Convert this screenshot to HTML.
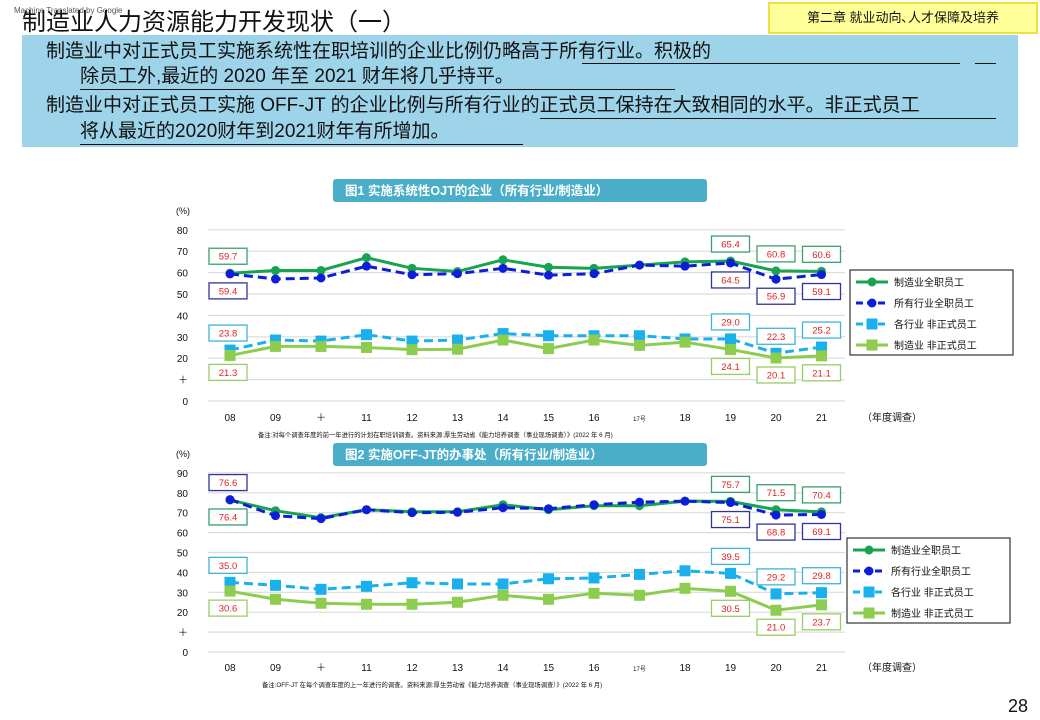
<!DOCTYPE html>
<html><head><meta charset="utf-8">
<style>
body{margin:0;width:1040px;height:720px;background:#fff;position:relative;overflow:hidden;font-family:"Liberation Sans","Noto Sans CJK SC",sans-serif;}
.abs{position:absolute;}
.bline{position:absolute;white-space:nowrap;font-size:19px;color:#111;line-height:24px;}
.ul{position:absolute;height:1px;background:#111;}
</style></head><body>
<div class="abs" style="left:14px;top:6px;font-size:8px;color:#555;">Machine Translated by Google</div>
<div class="abs" style="left:22px;top:2px;font-size:24px;color:#111;">制造业人力资源能力开发现状（一）</div>
<div class="abs" style="left:768px;top:2px;width:266px;height:28px;background:#ffff99;border:2px solid #eee040;font-size:13px;line-height:28px;text-align:center;color:#111;">第二章 就业动向､人才保障及培养</div>
<div class="abs" style="left:22px;top:35px;width:996px;height:112px;background:#9dd4ea;"></div>
<div class="bline" style="left:46px;top:40px;">制造业中对正式员工实施系统性在职培训的企业比例仍略高于所有行业。积极的</div>
<div class="ul" style="left:582px;top:63px;width:378px;"></div>
<div class="ul" style="left:975px;top:63px;width:21px;"></div>
<div class="bline" style="left:80px;top:65px;">除员工外,最近的 2020 年至 2021 财年将几乎持平。</div>
<div class="ul" style="left:80px;top:89px;width:595px;"></div>
<div class="bline" style="left:46px;top:94px;">制造业中对正式员工实施 OFF-JT 的企业比例与所有行业的正式员工保持在大致相同的水平。非正式员工</div>
<div class="ul" style="left:540px;top:118px;width:456px;"></div>
<div class="bline" style="left:80px;top:120px;">将从最近的2020财年到2021财年有所增加。</div>
<div class="ul" style="left:80px;top:144px;width:443px;"></div>
<div class="abs" style="left:1008px;top:696px;font-size:18px;color:#111;">28</div>

<svg id="chart" class="abs" style="left:0;top:0" width="1040" height="720"></svg>

<script>
const years=["08","09","＋","11","12","13","14","15","16","17号","18","19","20","21"];
const c1MfgFull=[59.7,61,61,67,62,60.5,66,62.5,62,63.5,65,65.4,60.8,60.6];
const c1AllFull=[59.4,57,57.5,63,59,59.5,62,58.8,59.5,63.5,63,64.5,56.9,59.1];
const c1AllNon=[23.8,28.5,28,31,28,28.5,31.5,30.5,30.5,30.5,29,29.0,22.3,25.2];
const c1MfgNon=[21.3,25.5,25.5,25,24,24.2,28.5,24.5,28.5,26,27.5,24.1,20.1,21.1];
const c2MfgFull=[76.4,71,67.5,71.5,70.5,70.5,74,71.5,73.5,73.5,75.8,75.7,71.5,70.4];
const c2AllFull=[76.6,68.5,67,71.5,70,70.2,72.5,72,74,75.3,75.8,75.1,68.8,69.1];
const c2AllNon=[35.0,33.5,31.5,33,34.8,34.2,34.2,36.8,37.2,39,40.8,39.5,29.2,29.8];
const c2MfgNon=[30.6,26.5,24.5,24,24,25,28.5,26.5,29.5,28.5,32,30.5,21.0,23.7];
const c1Ticks=["0","＋","20","30","40","50","60","70","80"];
const c2Ticks=["0","＋","20","30","40","50","60","70","80","90"];
const labelIdx=[0,11,12,13];
const legendNames=["制造业全职员工","所有行业全职员工","各行业 非正式员工","制造业 非正式员工"];

const NS="http://www.w3.org/2000/svg";
const svg=document.getElementById('chart');
function el(tag,attrs,parent){const e=document.createElementNS(NS,tag);for(const k in attrs)e.setAttribute(k,attrs[k]);(parent||svg).appendChild(e);return e;}
const FONT='"Liberation Sans","Noto Sans CJK SC",sans-serif';
const styles=[
 {color:"#17a34f",dash:"",marker:"circle",box:"#3aa070"},
 {color:"#0c1ed8",dash:"9,5",marker:"circle",box:"#33339a"},
 {color:"#1ab0ec",dash:"9,5",marker:"square",box:"#40b4d4"},
 {color:"#8ccc4e",dash:"",marker:"square",box:"#99cc66"}];

function drawChart(cfg){
 const g=el('g',{});
 
 
 const x=i=>230+i*45.5;
 const y=v=>cfg.y0-v*cfg.k;
 cfg.ticks.forEach((t,i)=>{
  const yy=y(i*10);
  const gl=el('line',{x1:208,x2:845,y1:yy,y2:yy,stroke:"#dcdcdc","stroke-width":1.2},g);
  
  
  const tx=el('text',{x:188,y:yy+4,"text-anchor":"end","font-size":10,"font-family":FONT,fill:"#111"},g);
  tx.textContent=t;
  
  
 });
 const pu=el('text',{x:176,y:cfg.y0-(cfg.ticks.length-1)*10*cfg.k+cfg.unitDy,"font-size":9,"font-family":FONT,fill:"#111"},g);
 pu.textContent="(%)";
 
 
 years.forEach((t,i)=>{
  const small=t.length>2;
  const tx=el('text',{x:x(i),y:cfg.xy,"text-anchor":"middle","font-size":small?6:10,"font-family":FONT,fill:"#111"},g);
  tx.textContent=t;
  
  
 });
 const xt=el('text',{x:862,y:cfg.xy,"font-size":10,"font-family":FONT,fill:"#111"},g);
 xt.textContent="（年度调查）";
 
 
 const note=el('text',{x:cfg.noteX,y:cfg.xy+16,"font-size":6.3,"font-family":FONT,fill:"#111"},g);
 note.textContent=cfg.note;
 
 
 const br=el('rect',{x:333,y:cfg.bannerY,width:374,height:23,rx:3,fill:"#4aaec8"},g);
 
 
 const bt=el('text',{x:345,y:cfg.bannerY+16,"font-size":12.5,"font-weight":"bold","font-family":FONT,fill:"#fff"},g);
 bt.textContent=cfg.title;
 
 
 cfg.series.forEach((data,s)=>{
  const st=styles[s];
  const pts=data.map((v,i)=>x(i)+","+y(v)).join(" ");
  const pl=el('polyline',{points:pts,fill:"none",stroke:st.color,"stroke-width":3,"stroke-dasharray":st.dash},g);
  
  
  data.forEach((v,i)=>{
   let m;
   if(st.marker==="circle") m=el('circle',{cx:x(i),cy:y(v),r:4.5,fill:st.color},g);
   else m=el('rect',{x:x(i)-5.5,y:y(v)-5.5,width:11,height:11,fill:st.color},g);
   
   
  });
  labelIdx.forEach((i,j)=>{
   let side=cfg.sides[s];
   if(j===0&&cfg.firstSwap&&s<2) side=-side;
   const cx=x(i)-(i===0?2:0), cy=y(data[i])+side*17;
   const r=el('rect',{x:cx-19,y:cy-8,width:38,height:16,fill:"#fff",stroke:st.box,"stroke-width":1.3},g);
   
   
   const t=el('text',{x:cx,y:cy+3.5,"text-anchor":"middle","font-size":9.5,"font-family":FONT,fill:"#e02020"},g);
   t.textContent=data[i].toFixed(1);
   
   
  });
 });
 const lg=el('g',{},g);
 
 
 el('rect',{x:cfg.legX,y:cfg.legY,width:163,height:85,fill:"#fff",stroke:"#333","stroke-width":1.2},lg);
 legendNames.forEach((n,s)=>{
  const st=styles[s];
  const ly=cfg.legY+12+s*21;
  const ln=el('line',{x1:cfg.legX+6,x2:cfg.legX+38,y1:ly,y2:ly,stroke:st.color,"stroke-width":3,"stroke-dasharray":st.dash?"7,4":""},lg);
  
  
  if(st.marker==="circle") el('circle',{cx:cfg.legX+22,cy:ly,r:4.5,fill:st.color},lg);
  else el('rect',{x:cfg.legX+16.5,y:ly-5.5,width:11,height:11,fill:st.color},lg);
  const t=el('text',{x:cfg.legX+44,y:ly+4,"font-size":10,"font-family":FONT,fill:"#111"},lg);
  t.textContent=n;
  
  
 });
}
drawChart({name:'chart-ojt',y0:401,k:2.14,ticks:c1Ticks,unitDy:-16,xy:421,noteX:258,
 note:"备注:对每个调查年度的前一年进行的计划在职培训调查。资料来源:厚生劳动省《能力培养调查（事业现场调查）》(2022 年 6 月)",
 bannerY:179,title:"图1 实施系统性OJT的企业（所有行业/制造业）",
 series:[c1MfgFull,c1AllFull,c1AllNon,c1MfgNon],sides:[-1,1,-1,1],firstSwap:false,legX:850,legY:270});
drawChart({name:'chart-offjt',y0:652,k:1.99,ticks:c2Ticks,unitDy:-16,xy:671,noteX:262,
 note:"备注:OFF-JT 在每个调查年度的上一年进行的调查。资料来源:厚生劳动省《能力培养调查（事业现场调查）》(2022 年 6 月)",
 bannerY:443,title:"图2 实施OFF-JT的办事处（所有行业/制造业）",
 series:[c2MfgFull,c2AllFull,c2AllNon,c2MfgNon],sides:[-1,1,-1,1],firstSwap:true,legX:847,legY:538});
</script>
</body></html>
